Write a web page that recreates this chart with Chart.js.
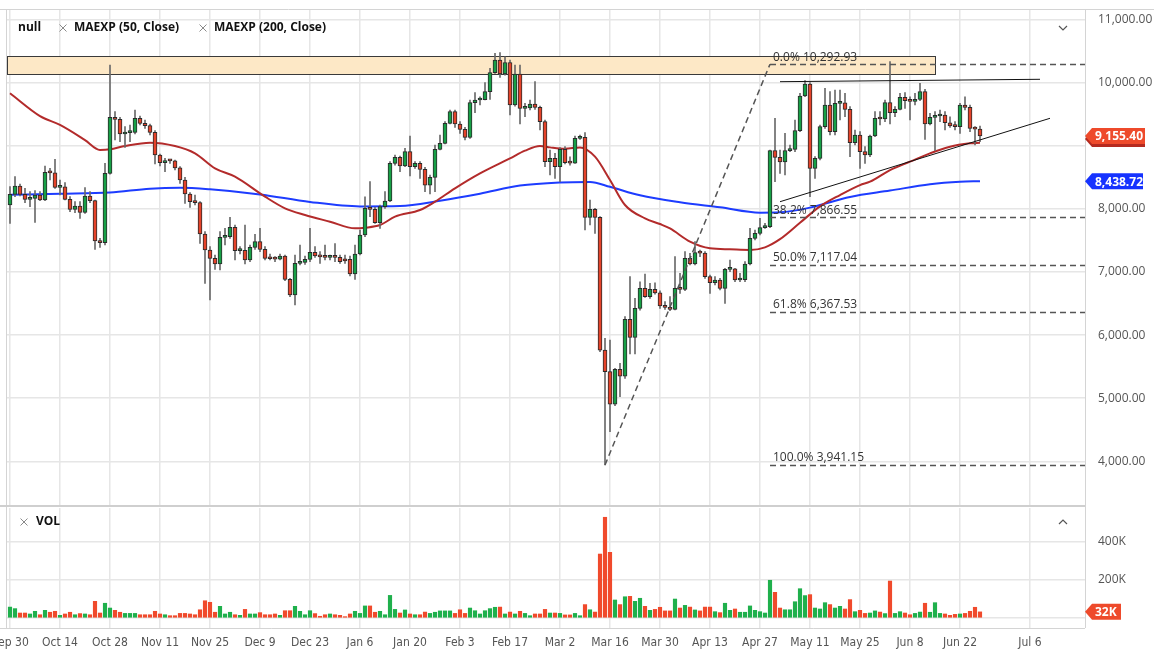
<!DOCTYPE html>
<html>
<head>
<meta charset="utf-8">
<script src="https://cdn.jsdelivr.net/npm/chart.js@4.4.1/dist/chart.umd.min.js"></script>
<style>
  html, body { margin: 0; padding: 0; background: #fff; }
  #wrap { position: relative; width: 1154px; height: 651px; overflow: hidden; }
  canvas { position: absolute; left: 0; }
  #priceCanvas { top: 0; width: 1154px; height: 507px; }
  #volCanvas { top: 507px; width: 1154px; height: 144px; }
</style>
</head>
<body>
<div id="wrap">
  <canvas id="priceCanvas" width="1154" height="507"></canvas>
  <canvas id="volCanvas" width="1154" height="144"></canvas>
</div>
<script>
// Daily candles, index 0 = Sep 30 (weekdays only)
const opens = [8062,8231,8363,8231,8152,8168,8220,8141,8580,8570, 8342,8350,8152,7993,8046,7946,8205,8131,7491,7465,
  8564,9451,9420,9187,9208,9214,9435,9356,9319,9214, 8854,8733,8765,8760,8650,8458,8236,8115,8099,7602,
  7349,7217,7127,7549,7560,7708,7338,7345,7190,7391, 7481,7359,7217,7210,7205,7254,6884,6635,7137,7153,
  7201,7312,7254,7240,7232,7245,7232,7210,7200,6968, 7285,7586,8009,7993,7781,8035,8125,8722,8817,8680,
  8907,8669,8722,8627,8378,8500,8944,9039,9356,9541, 9345,9261,9134,9683,9726,9730,9858,10159,10360,10138,
  10320,9646,10138,9594,9600,9662,9609,9382,8748,8800, 8669,8944,8732,8725,9118,9134,7866,7993,7866,5763,
  5420,4907,5457,5351,6249,5964,6424,6741,6609,6725, 6670,6461,6440,6408,6741,6725,7217,7127,7306,7300,
  6926,6831,6873,6741,7042,7050,6873,6880,7127,7534, 7613,7703,7718,8923,8817,8743,8923,8944,9240,9789,
  9980,8643,8801,9303,9646,9224,9673,9680,9578,9049, 9171,8907,8854,9155,9435,9425,9683,9525,9578,9768,
  9715,9705,9736,9858,9345,9451,9472,9488,9366,9314, 9303,9646,9609,9277,9265];
const highs = [8352,8511,8395,8326,8273,8289,8273,8680,8643,8786, 8458,8416,8194,8115,8115,8337,8273,8141,7534,8722,
  10281,9541,9451,9303,9330,9568,9472,9409,9346,9240, 8870,8802,8786,8775,8669,8500,8257,8220,8115,7639,
  7401,7269,7639,7692,7866,7745,7401,7745,7428,7597, 7692,7401,7285,7243,7285,7269,6900,7269,7428,7254,
  7692,7401,7322,7428,7269,7450,7269,7269,7253,7427, 7665,8193,8431,8025,8061,8273,8748,8854,8838,8960,
  9155,8748,8748,8658,8537,9012,9171,9382,9567,9567, 9382,9292,9726,9842,9778,10000,10227,10465,10476,10410,
  10360,10280,10280,9673,9726,10016,9630,9408,8933,8880, 8970,8986,8827,9155,9171,9208,8141,8009,7877,5948,
  5922,5473,5552,6292,6926,6582,6846,6968,6820,6830, 6700,6530,6609,7243,6979,7322,7296,7481,7349,7322,
  6952,6926,6900,7058,7190,7058,6979,7164,7692,7666, 7851,7771,8934,9435,8934,9198,9013,9409,9832,10032,
  10001,8828,9329,9910,9858,9884,9884,9831,9620,9250, 9224,8986,9171,9541,9541,9726,10333,9620,9831,9842,
  9778,9831,9990,9895,9514,9541,9567,9541,9461,9382, 9673,9778,9646,9303,9313];
const lows = [7771,8194,8204,8099,8036,7787,8131,8131,8458,8326, 8220,8141,7956,7940,7851,7930,8099,7359,7391,7428,
  8550,9092,9066,8976,9066,9187,9330,9277,9171,8712, 8680,8590,8722,8617,8405,8088,8025,8062,7454,6820,
  6556,7042,7032,7428,7534,7190,7285,7127,7164,7359, 7322,7190,7190,7164,7190,6863,6609,6477,7111,7120,
  7164,7232,7137,7190,7190,7163,7137,7137,6936,6883, 7269,7560,7877,7771,7692,8009,8114,8695,8590,8669,
  8521,8643,8484,8273,8236,8273,8933,9028,9345,9292, 9197,9092,9118,9525,9646,9726,9736,10148,10085,10120,
  9488,9630,9345,9461,9567,9578,9250,8669,8537,8484, 8431,8711,8695,8722,9102,7665,7745,7612,5737,3941.15,
  4469,4880,5024,5314,5700,5700,6397,6598,6582,6650, 6424,6408,6387,6398,6662,6704,7111,7111,7243,6900,
  6662,6794,6715,6503,7005,6847,6847,6847,7111,7507, 7586,7692,7703,8432,8564,8537,8907,8907,9224,9779,
  8194,8485,8775,9277,9171,9171,9409,9461,8827,9012, 8643,8722,8827,9145,9329,9382,9345,9461,9567,9593,
  9409,9646,9715,9102,9329,8923,9382,9250,9292,9250, 9197,9567,9224,9012,9065];
const closes = [8231,8363,8231,8152,8168,8220,8141,8580,8570,8342, 8350,8152,7993,8046,7946,8205,8131,7491,7465,8564,
  9451,9420,9187,9208,9214,9435,9356,9319,9214,8854, 8733,8765,8760,8650,8458,8236,8115,8099,7602,7349,
  7217,7127,7549,7560,7708,7338,7345,7190,7391,7481, 7359,7217,7210,7205,7254,6884,6635,7137,7153,7201,
  7312,7254,7240,7232,7245,7232,7163,7175,6968,7285, 7586,8009,7993,7781,8035,8125,8722,8817,8680,8907,
  8669,8722,8627,8378,8500,8944,9039,9356,9541,9345, 9261,9134,9683,9726,9730,9858,10159,10360,10138,10320,
  9646,10138,9594,9600,9662,9609,9382,8748,8800,8669, 8944,8732,8725,9118,9134,7866,7993,7866,5763,5420,
  4907,5457,5351,6249,5964,6424,6741,6609,6725,6670, 6461,6440,6408,6741,6725,7217,7127,7306,7300,6926,
  6831,6873,6741,7042,7050,6873,6880,7127,7534,7613, 7703,7718,8923,8817,8743,8923,8944,9240,9789,9980,
  8643,8801,9303,9646,9224,9673,9680,9578,9049,9171, 8907,8854,9155,9435,9425,9683,9525,9578,9768,9715,
  9705,9736,9858,9345,9451,9472,9488,9366,9314,9303, 9646,9609,9277,9265,9155.4];
// volume in thousands
const volumes = [57,49,26,26,21,35,17,40,30,35, 14,21,30,17,23,21,17,87,26,77,
  52,40,30,24,24,24,17,17,17,35, 21,17,12,12,24,24,21,17,43,90,
  82,30,61,21,30,17,14,45,21,21, 28,17,17,21,14,38,38,61,35,17,
  38,23,9,17,21,17,14,7,21,35, 24,63,63,30,35,17,118,45,26,42,
  21,17,17,31,24,30,37,37,37,24, 43,24,52,38,21,38,49,56,57,21,
  31,21,35,24,12,21,21,45,26,26, 24,16,16,24,12,70,43,31,334,526,
  343,94,70,111,113,87,103,61,40,45, 56,37,37,99,52,66,57,42,37,57,
  57,33,28,77,40,47,30,30,63,40, 33,26,197,134,52,43,43,85,153,117,
  122,52,47,80,70,52,61,47,96,33, 40,24,26,37,31,23,193,24,33,26,
  17,24,31,77,30,80,24,21,14,19, 21,24,35,56,32];

// moving averages at sample indices
const ema50Idx = [0,6,10,15,18,20,23,28,33,37,41,45,51,55,59,64,69,71,74,77,82,85,89,94,100,103,106,108,111,114,117,120,123,127,130,132,136,140,144,148,151,154,158,162,166,170,172,176,180,184,188,192,194];
const ema50Val = [9832,9470,9330,9090,8934,8944,8997,9050,8997,8881,8643,8511,8194,8009,7903,7797,7692,7702,7744,7877,7982,8114,8326,8563,8801,8923,8997,8975,8954,8975,8828,8458,8062,7850,7760,7690,7481,7375,7359,7349,7391,7520,7780,8040,8220,8378,8431,8616,8748,8880,8986,9039,9049];
const ema200Idx = [0,10,20,28,34,40,50,60,70,78,86,94,102,110,116,120,126,134,142,150,154,160,168,176,184,190,194];
const ema200Val = [8225,8240,8260,8320,8335,8310,8230,8110,8040,8045,8130,8240,8370,8420,8428,8350,8215,8105,8025,7940,7945,8020,8190,8290,8390,8430,8438.72];

const tickIndex = [0,10,20,30,40,50,60,70,80,90,100,110,120,130,140,150,160,170,180,190,204];
const tickLabels = ['Sep 30','Oct 14','Oct 28','Nov 11','Nov 25','Dec 9','Dec 23','Jan 6','Jan 20','Feb 3','Feb 17','Mar 2','Mar 16','Mar 30','Apr 13','Apr 27','May 11','May 25','Jun 8','Jun 22','Jul 6'];
const priceTicks = [4000,5000,6000,7000,8000,9000,10000,11000];
const volTicks = [0,200,400];

// drawings
const zone = { endIdx: 185, top: 10423, bottom: 10138 };
const fibLine = { fromIdx: 119, fromVal: 3941.15, toIdx: 152, toVal: 10292.93 };
const fibPct = ['0.0%','38.2%','50.0%','61.8%','100.0%'];
const fibVal = [10292.93, 7866.55, 7117.04, 6367.53, 3941.15];
const resistIdx = [154, 206], resistVal = [10016, 10054];
const supportIdx = [154, 208], supportVal = [8114, 9436];

const AXIS_W = 69;
const GRID = '#e6e6e6';
const UP = '#17a046', DOWN = '#e5432a';
const FONT = '"Open Sans", "Noto Sans", sans-serif';
const lastClose = closes[closes.length - 1];

const fmt = (v) => {
  const [a, b] = v.toFixed(2).split('.');
  return a.replace(/\B(?=(\d{3})+(?!\d))/g, ',') + '.' + b;
};
const isUp = (i) => closes[i] >= opens[i];

// map the scales so that bar 0 sits at x=10 (5px per bar) and values land at the picture's pixels
function calibrate(chart, refVal, refPx, unitsPerPx) {
  const a = chart.chartArea;
  const s = chart.options.scales;
  s.x.min = (a.left - 10) / 5;
  s.x.max = (a.right - 10) / 5;
  s.y.max = refVal + (refPx - a.top) * unitsPerPx;
  s.y.min = refVal - (a.bottom - refPx) * unitsPerPx;
  chart.update();
}

function drawTag(ctx, x, yc, text, fill, shadow, w) {
  const h = 16, tip = 7;
  const path = (dy) => {
    ctx.beginPath();
    ctx.moveTo(x, yc + dy);
    ctx.lineTo(x + tip, yc - h / 2 + dy);
    ctx.lineTo(x + tip + w, yc - h / 2 + dy);
    ctx.lineTo(x + tip + w, yc + h / 2 + dy);
    ctx.lineTo(x + tip, yc + h / 2 + dy);
    ctx.closePath();
  };
  if (shadow) { path(3); ctx.fillStyle = shadow; ctx.fill(); }
  path(0); ctx.fillStyle = fill; ctx.fill();
  ctx.fillStyle = '#fff';
  ctx.font = 'bold 12px ' + FONT;
  ctx.textAlign = 'left';
  ctx.textBaseline = 'middle';
  ctx.fillText(text, x + tip + 3, yc + 1);
}

function cross(ctx, x, y) {
  ctx.strokeStyle = '#8a8a8a';
  ctx.lineWidth = 1;
  ctx.beginPath();
  ctx.moveTo(x - 3.5, y - 3.5); ctx.lineTo(x + 3.5, y + 3.5);
  ctx.moveTo(x + 3.5, y - 3.5); ctx.lineTo(x - 3.5, y + 3.5);
  ctx.stroke();
}

const priceDrawings = {
  id: 'priceDrawings',
  beforeDatasetsDraw(chart) {
    const { ctx, chartArea: a, scales: { x, y } } = chart;
    ctx.save();
    const zx2 = x.getPixelForValue(zone.endIdx);
    const zy1 = y.getPixelForValue(zone.top), zy2 = y.getPixelForValue(zone.bottom);
    ctx.fillStyle = '#fde8c6';
    ctx.fillRect(a.left, zy1, zx2 - a.left, zy2 - zy1);
    ctx.strokeStyle = '#3a3a3a';
    ctx.lineWidth = 1;
    ctx.strokeRect(a.left + 0.5, Math.round(zy1) + 0.5, zx2 - a.left, Math.round(zy2 - zy1));
    ctx.restore();
  },
  afterDatasetsDraw(chart) {
    const { ctx, chartArea: a, scales: { x, y } } = chart;
    ctx.save();
    // fib levels
    const fx = x.getPixelForValue(fibLine.toIdx);
    ctx.strokeStyle = '#555';
    ctx.lineWidth = 1.5;
    ctx.setLineDash([6, 4]);
    fibVal.forEach((v) => {
      const py = Math.round(y.getPixelForValue(v)) + 0.5;
      ctx.beginPath(); ctx.moveTo(fx, py); ctx.lineTo(a.right, py); ctx.stroke();
    });
    ctx.beginPath();
    ctx.moveTo(x.getPixelForValue(fibLine.fromIdx), y.getPixelForValue(fibLine.fromVal));
    ctx.lineTo(fx, y.getPixelForValue(fibLine.toVal));
    ctx.stroke();
    ctx.setLineDash([]);
    ctx.fillStyle = '#333';
    ctx.font = '12px ' + FONT;
    ctx.textAlign = 'left';
    ctx.textBaseline = 'bottom';
    fibVal.forEach((v, i) => {
      ctx.fillText(fibPct[i] + ' ' + fmt(v), fx + 3, y.getPixelForValue(v) - 1);
    });
    // trendlines
    ctx.strokeStyle = '#111';
    ctx.lineWidth = 1;
    [[resistIdx, resistVal], [supportIdx, supportVal]].forEach(([ix, vv]) => {
      ctx.beginPath();
      ctx.moveTo(x.getPixelForValue(ix[0]), y.getPixelForValue(vv[0]));
      ctx.lineTo(x.getPixelForValue(ix[1]), y.getPixelForValue(vv[1]));
      ctx.stroke();
    });
    ctx.restore();
  },
  afterDraw(chart) {
    const { ctx, chartArea: a, scales: { y } } = chart;
    ctx.save();
    // frame
    ctx.strokeStyle = '#d4d4d4';
    ctx.lineWidth = 1;
    ctx.beginPath();
    ctx.moveTo(a.left - 0.5, a.top); ctx.lineTo(a.left - 0.5, 507);
    ctx.moveTo(a.right + 0.5, a.top); ctx.lineTo(a.right + 0.5, 507);
    ctx.moveTo(0, a.top - 0.5); ctx.lineTo(1154, a.top - 0.5);
    ctx.stroke();
    ctx.strokeStyle = '#cfcfcf';
    ctx.lineWidth = 2;
    ctx.beginPath(); ctx.moveTo(0, 506); ctx.lineTo(a.right, 506); ctx.stroke();
    // legend
    ctx.textBaseline = 'middle';
    ctx.textAlign = 'left';
    ctx.fillStyle = '#111';
    ctx.font = 'bold 12px ' + FONT;
    ctx.fillText('null', 18, 28);
    cross(ctx, 63, 28);
    ctx.fillStyle = '#111';
    ctx.fillText('MAEXP (50, Close)', 74, 28);
    cross(ctx, 203, 28);
    ctx.fillStyle = '#111';
    ctx.fillText('MAEXP (200, Close)', 214, 28);
    // chevron
    ctx.strokeStyle = '#555';
    ctx.lineWidth = 1.2;
    ctx.beginPath(); ctx.moveTo(1059, 26); ctx.lineTo(1063, 30); ctx.lineTo(1067, 26); ctx.stroke();
    // last value tags
    drawTag(ctx, a.right, y.getPixelForValue(lastClose), fmt(lastClose), '#ee4a2b', '#b52a20', 53);
    drawTag(ctx, a.right, y.getPixelForValue(ema200Val[ema200Val.length - 1]), fmt(ema200Val[ema200Val.length - 1]), '#1633ff', null, 51);
    ctx.restore();
  }
};

const volDrawings = {
  id: 'volDrawings',
  afterDraw(chart) {
    const { ctx, chartArea: a, scales: { y } } = chart;
    ctx.save();
    ctx.strokeStyle = '#d4d4d4';
    ctx.lineWidth = 1;
    ctx.beginPath();
    ctx.moveTo(a.left - 0.5, 0); ctx.lineTo(a.left - 0.5, a.bottom);
    ctx.moveTo(a.right + 0.5, 0); ctx.lineTo(a.right + 0.5, a.bottom);
    ctx.moveTo(0, a.bottom + 0.5); ctx.lineTo(a.right, a.bottom + 0.5);
    ctx.stroke();
    cross(ctx, 24, 15);
    ctx.fillStyle = '#111';
    ctx.font = 'bold 12px ' + FONT;
    ctx.textAlign = 'left';
    ctx.textBaseline = 'middle';
    ctx.fillText('VOL', 36, 15);
    ctx.strokeStyle = '#555';
    ctx.lineWidth = 1.2;
    ctx.beginPath(); ctx.moveTo(1059, 17); ctx.lineTo(1063, 13); ctx.lineTo(1067, 17); ctx.stroke();
    const lastVol = volumes[volumes.length - 1];
    drawTag(ctx, a.right, y.getPixelForValue(lastVol), lastVol + 'K', '#ee4a2b', null, 29);
    ctx.restore();
  }
};

const noPad = (s) => { s.paddingTop = 0; s.paddingBottom = 0; s.paddingLeft = 0; s.paddingRight = 0; };

const xScale = (showLabels) => ({
  type: 'linear',
  offset: false,
  min: -0.6,
  max: 215,
  afterBuildTicks: (s) => { s.ticks = tickIndex.map((v) => ({ value: v })); },
  ticks: {
    display: showLabels,
    autoSkip: false,
    maxRotation: 0,
    color: '#555',
    padding: 8,
    font: { family: '"Liberation Sans Narrow", "DejaVu Sans Condensed", Roboto, sans-serif', size: 12 },
    callback: (v) => tickLabels[tickIndex.indexOf(v)] || ''
  },
  grid: { color: GRID, lineWidth: 1.5, drawTicks: false, offset: false },
  border: { display: false },
  afterFit: (s) => { s.height = showLabels ? 23 : 0; noPad(s); }
});

const yScale = (min, max, ticks, label) => ({
  position: 'right',
  min,
  max,
  afterBuildTicks: (s) => { s.ticks = ticks.map((v) => ({ value: v })); },
  ticks: { color: '#555', padding: 13, font: { family: FONT, size: 12 }, callback: label },
  grid: { color: GRID, lineWidth: 1.5, drawTicks: false },
  border: { display: false },
  afterFit: (s) => { s.width = AXIS_W; noPad(s); }
});

const priceChart = new Chart(document.getElementById('priceCanvas'), {
  type: 'bar',
  data: {
    datasets: [
      {
        label: 'body',
        data: opens.map((o, i) => ({ x: i, y: [o, closes[i]] })),
        backgroundColor: opens.map((_, i) => (isUp(i) ? UP : DOWN)),
        borderColor: '#2a2a2a',
        borderWidth: 1,
        borderSkipped: false,
        barThickness: 4,
        minBarLength: 2,
        grouped: false,
        order: 0
      },
      {
        label: 'wick',
        data: lows.map((l, i) => ({ x: i, y: [l, highs[i]] })),
        backgroundColor: '#6a6a6a',
        barThickness: 1,
        grouped: false,
        order: 1
      },
      {
        type: 'line',
        label: 'MAEXP (50, Close)',
        data: ema50Idx.map((ix, i) => ({ x: ix, y: ema50Val[i] })),
        borderColor: '#b32b2b',
        borderWidth: 2,
        pointRadius: 0,
        cubicInterpolationMode: 'monotone',
        order: 2
      },
      {
        type: 'line',
        label: 'MAEXP (200, Close)',
        data: ema200Idx.map((ix, i) => ({ x: ix, y: ema200Val[i] })),
        borderColor: '#1d3cff',
        borderWidth: 2,
        pointRadius: 0,
        cubicInterpolationMode: 'monotone',
        order: 3
      }
    ]
  },
  options: {
    responsive: false,
    animation: false,
    events: [],
    layout: { padding: { left: 7, top: 10, right: 0, bottom: 2 } },
    plugins: { legend: { display: false }, tooltip: { enabled: false } },
    scales: {
      x: xScale(false),
      // the axis label that sits under the last-price tag is not shown
      y: yScale(3307, 11152, priceTicks, (v) => (Math.abs(v - lastClose) < 250 ? '' : fmt(v)))
    }
  },
  plugins: [priceDrawings]
});

const volChart = new Chart(document.getElementById('volCanvas'), {
  type: 'bar',
  data: {
    datasets: [{
      label: 'VOL',
      data: volumes.map((v, i) => ({ x: i, y: v })),
      backgroundColor: volumes.map((_, i) => (isUp(i) ? '#1fb04c' : '#f04a2c')),
      barThickness: 3.5,
      grouped: false
    }]
  },
  options: {
    responsive: false,
    animation: false,
    events: [],
    layout: { padding: { left: 7, top: 1, right: 0, bottom: 0 } },
    plugins: { legend: { display: false }, tooltip: { enabled: false } },
    scales: {
      x: xScale(true),
      y: yScale(-52, 574, volTicks, (v) => (v === 0 ? '' : v + 'K'))
    }
  },
  plugins: [volDrawings]
});

// 10,000 sits at y=82.7 with 63.1px per 1,000; volume 0 at y=111 of its canvas with 38.3px per 200K
calibrate(priceChart, 10000, 82.7, 1000 / 63.1);
calibrate(volChart, 0, 111, 200 / 38.3);
</script>
</body>
</html>
